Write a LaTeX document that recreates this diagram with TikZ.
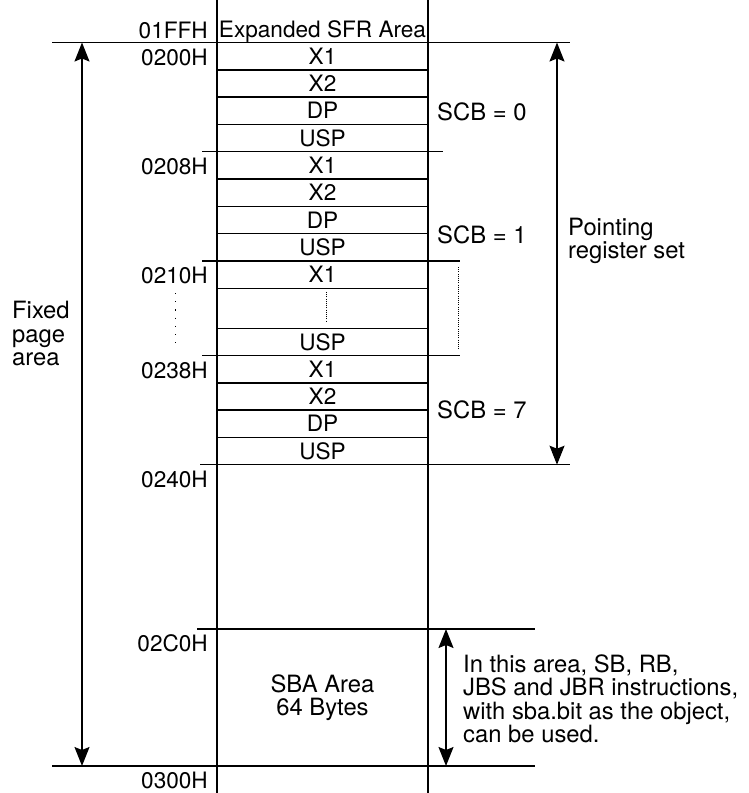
\documentclass[tikz,border=0pt]{standalone}
\usepackage{fontspec}
\setmainfont{TeX Gyre Heros}
\usetikzlibrary{arrows.meta}
\begin{document}
\begin{tikzpicture}[x=1pt, y=-1pt, every node/.style={font=\fontsize{22.6}{23.3}\selectfont, inner sep=0pt},
  lbl/.style={font=\fontsize{23.8}{23.3}\selectfont},
  cell/.style={draw, line width=1.4pt, minimum width=211pt, minimum height=27.3pt},
  addr/.style={anchor=base east},
  scb/.style={lbl, anchor=base west},
  edge/.style={line width=1.3pt},
  dots/.style={line width=1pt, dash pattern=on 1pt off 1.2pt},
  dim/.style={line width=1.3pt, {Stealth[length=19pt,width=15pt,inset=3pt]}-{Stealth[length=19pt,width=15pt,inset=3pt]}}]
\useasboundingbox (0,0) rectangle (748,793);
% column walls
\draw[line width=1.5pt] (217,0) -- (217,793);
\draw[line width=1.5pt] (428,0) -- (428,793);
\node[anchor=base] (sfr) at (322.5,37) {Expanded SFR Area};
% SCB = 0
\node[cell] (x1a) at (322.5,56.15) {X1};
\node[cell] (x2a) at (322.5,83.45) {X2};
\node[cell] (dpa) at (322.5,110.75) {DP};
\node[cell] (uspa) at (322.5,138.05) {USP};
% SCB = 1
\node[cell] (x1b) at (322.5,165.35) {X1};
\node[cell] (x2b) at (322.5,192.65) {X2};
\node[cell] (dpb) at (322.5,219.95) {DP};
\node[cell] (uspb) at (322.5,247.25) {USP};
% SCB = 2 .. 6
\node[cell] (x1c) at (322.5,274.55) {X1};
\node[cell, minimum height=40pt] (gap) at (322.5,308.2) {};
\node[cell] (uspc) at (322.5,341.85) {USP};
% SCB = 7
\node[cell] (x1d) at (322.5,369.15) {X1};
\node[cell] (x2d) at (322.5,396.45) {X2};
\node[cell] (dpd) at (322.5,423.75) {DP};
\node[cell] (uspd) at (322.5,451.05) {USP};
\node[lbl, align=center] (sba) at (322.5,697.5) {SBA Area\\64 Bytes};
% boundary lines
\draw[edge] (52,42.5) -- (570,42.5);
\draw[edge] (202,151.7) -- (443,151.7);
\draw[edge] (202,260.9) -- (460,260.9);
\draw[edge] (202,355.5) -- (460,355.5);
\draw[edge] (200,464.7) -- (570,464.7);
\draw[edge] (197,629) -- (535,629);
\draw[edge] (52,766) -- (535,766);
\draw[dots] (326,292) -- (326,322);
\draw[dots] (458,267) -- (458,350);
\draw[line width=1pt, dash pattern=on 1.2pt off 7pt] (175,293) -- (175,347);
% addresses
\node[addr] (a01FF) at (208,38) {01FFH};
\node[addr] (a0200) at (208,65) {0200H};
\node[addr] (a0208) at (208,174.2) {0208H};
\node[addr] (a0210) at (208,283.4) {0210H};
\node[addr] (a0238) at (208,378) {0238H};
\node[addr] (a0240) at (208,487.2) {0240H};
\node[addr] (a02C0) at (208,651.5) {02C0H};
\node[addr] (a0300) at (208,788.5) {0300H};
\node[scb] (scb0) at (437,120.7) {SCB = 0};
\node[scb] (scb1) at (437,243) {SCB = 1};
\node[scb] (scb7) at (437,418) {SCB = 7};
% dimension arrows
\coordinate (fixT) at (82,42.5);
\coordinate (fixB) at (82,766);
\coordinate (ptrT) at (557,42.5);
\coordinate (ptrB) at (557,464.7);
\coordinate (sbaT) at (446,629);
\coordinate (sbaB) at (446,766);
\draw[dim] (fixT) -- (fixB);
\draw[dim] (ptrT) -- (ptrB);
\draw[dim] (sbaT) -- (sbaB);
\node[lbl, anchor=west, align=left] (fixed) at (12,333.5) {Fixed\\page\\area};
\node[lbl, anchor=west, align=left] (ptr) at (568,241) {Pointing\\register set};
\node[lbl, anchor=west, align=left] (note) at (463,698.7) {In this area, SB, RB,\\JBS and JBR instructions,\\with sba.bit as the object,\\can be used.};
\end{tikzpicture}
\end{document}
